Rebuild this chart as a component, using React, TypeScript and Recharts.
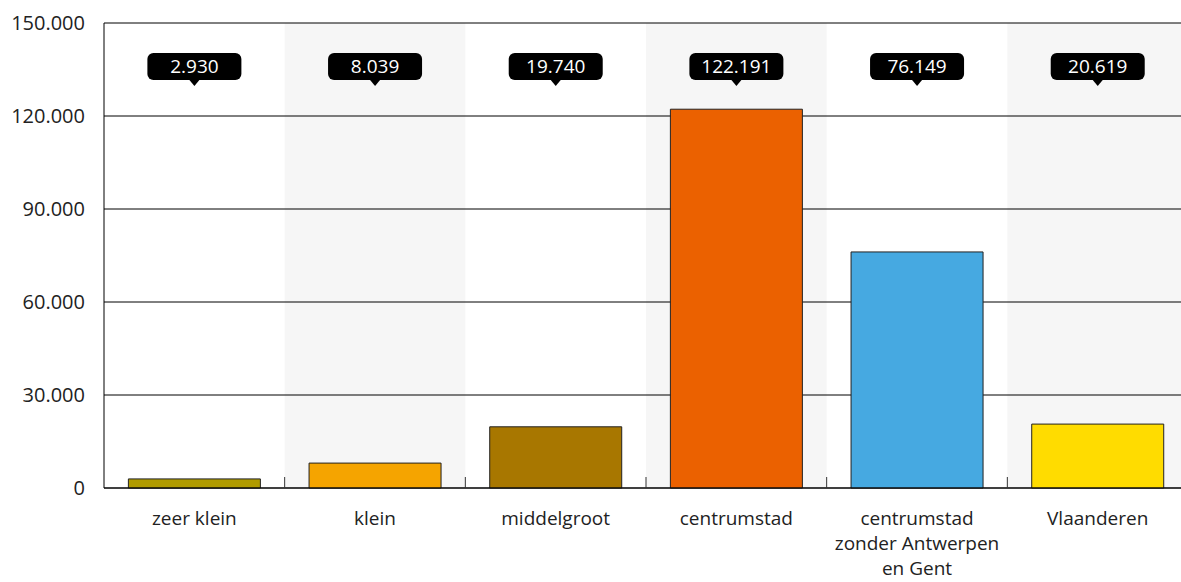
import { Bar, BarChart, CartesianGrid, Cell, LabelList, ReferenceArea, XAxis, YAxis } from "recharts";

const categories = [
  "zeer klein",
  "klein",
  "middelgroot",
  "centrumstad",
  "centrumstad zonder Antwerpen en Gent",
  "Vlaanderen",
];
const values = [2930, 8039, 19740, 122191, 76149, 20619];
const colors = ["#b09b00", "#f5a400", "#a87700", "#eb6100", "#46a9e1", "#ffdc00"];
const yTicks = [0, 30000, 60000, 90000, 120000, 150000];
const shaded = ["klein", "centrumstad", "Vlaanderen"];

const data = categories.map((name, i) => ({ name, value: values[i] }));

const FONT = "'Open Sans', Lato, sans-serif";
const W = 1188;
const H = 582;
const Y_W = 104;
const BAND = (W - Y_W) / categories.length;

const fmt = (v: number) => String(v).replace(/\B(?=(\d{3})+(?!\d))/g, ".");

function wrap(label: string, max = 16) {
  const lines: string[] = [];
  let cur = "";
  for (const w of label.split(" ")) {
    if (cur && (cur + " " + w).length > max) {
      lines.push(cur);
      cur = w;
    } else cur = cur ? cur + " " + w : w;
  }
  if (cur) lines.push(cur);
  return lines;
}

function XTick(props: any) {
  const { x, y, payload, index } = props;
  const lines = wrap(String(payload.value));
  return (
    <g>
      {index > 0 && (
        <line x1={x - BAND / 2} x2={x - BAND / 2} y1={y} y2={y - 11} stroke="#333" strokeWidth={1} />
      )}
      {lines.map((l, i) => (
        <text key={i} x={x} y={y + 37 + i * 25} textAnchor="middle" fontFamily={FONT} fontSize={19} fill="#222">
          {l}
        </text>
      ))}
    </g>
  );
}

function ValueBadge(props: any) {
  const { x, width, value } = props;
  const cx = x + width / 2;
  const top = 53;
  return (
    <g>
      <rect x={cx - 47} y={top} width={94} height={27} rx={6} fill="#000" />
      <path d={`M${cx - 5},${top + 27} L${cx + 5},${top + 27} L${cx},${top + 33} Z`} fill="#000" />
      <text x={cx} y={top + 20} textAnchor="middle" fontFamily={FONT} fontSize={19} fill="#fff">
        {fmt(Number(value))}
      </text>
    </g>
  );
}

export default function App() {
  return (
    <div style={{ position: "absolute", left: 0, top: 0, width: 1181, height: H, overflow: "hidden", background: "#fff" }}>
      <BarChart width={W} height={H} data={data} margin={{ top: 23, right: 0, left: 0, bottom: 0 }} barCategoryGap="13.5%">
        {shaded.map((s) => (
          <ReferenceArea
            key={s}
            x1={s}
            x2={s}
            fill="#f6f6f6"
            fillOpacity={1}
            stroke="none"
            ifOverflow="visible"
            zIndex={-200}
          />
        ))}
        <CartesianGrid vertical={false} stroke="#000" strokeOpacity={1} />
        <YAxis
          width={Y_W}
          domain={[0, 150000]}
          ticks={yTicks}
          tickFormatter={fmt}
          axisLine={{ stroke: "#000" }}
          tickLine={false}
          tickSize={0}
          tickMargin={19}
          tick={{ fontFamily: FONT, fontSize: 20, fill: "#222" }}
        />
        <XAxis
          dataKey="name"
          height={94}
          axisLine={{ stroke: "#000" }}
          tickLine={false}
          tickSize={0}
          tickMargin={0}
          interval={0}
          tick={<XTick />}
        />
        <Bar dataKey="value" stroke="#222" strokeWidth={1} isAnimationActive={false}>
          {data.map((_, i) => (
            <Cell key={i} fill={colors[i]} />
          ))}
          <LabelList dataKey="value" content={<ValueBadge />} />
        </Bar>
      </BarChart>
    </div>
  );
}
